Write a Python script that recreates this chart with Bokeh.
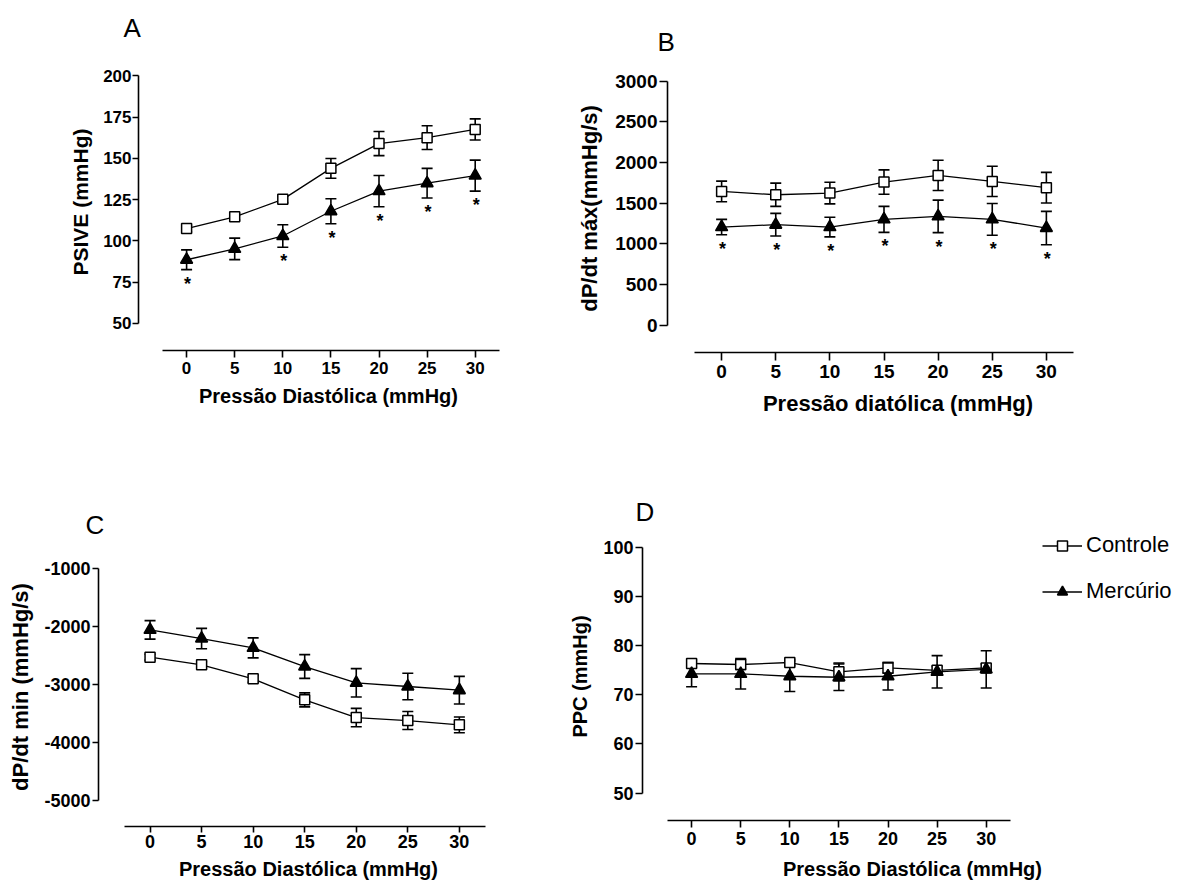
from bokeh.plotting import figure
from bokeh.models import (ColumnDataSource, Whisker, TeeHead, FixedTicker, Range1d,
                          Legend, LegendItem)
from bokeh.layouts import row, column
from bokeh.embed import file_html
from bokeh.resources import INLINE
from bokeh.core.properties import value

FONT = "Liberation Sans"

# ---------------- data ----------------
pressure = [0, 5, 10, 15, 20, 25, 30]
x_ticks = [0, 5, 10, 15, 20, 25, 30]

# A - PSIVE (mmHg)
psive_ctrl = [107.5, 114.6, 125.2, 144.0, 159.0, 162.6, 167.6]
psive_ctrl_err = [2.0, 2.0, 2.0, 6.0, 7.3, 7.2, 6.4]
psive_hg = [88.6, 95.2, 103.0, 118.0, 130.2, 135.0, 139.6]
psive_hg_err = [6.0, 6.5, 6.8, 7.6, 9.5, 9.0, 9.4]
psive_sig = [0, 10, 15, 20, 25, 30]
psive_ticks = [50, 75, 100, 125, 150, 175, 200]
psive_labels = ["50", "75", "100", "125", "150", "175", "200"]

# B - dP/dt max
dpmax_ctrl = [1645, 1604, 1625, 1760, 1842, 1768, 1691]
dpmax_ctrl_err = [127, 143, 133, 150, 186, 186, 188]
dpmax_hg = [1207, 1236, 1207, 1301, 1338, 1301, 1195]
dpmax_hg_err = [94, 139, 121, 160, 200, 195, 205]
dpmax_sig = [0, 5, 10, 15, 20, 25, 30]
dpmax_ticks = [0, 500, 1000, 1500, 2000, 2500, 3000]
dpmax_labels = ["0", "500", "1000", "1500", "2000", "2500", "3000"]

# C - dP/dt min
dpmin_ctrl = [-2532, -2664, -2905, -3267, -3571, -3623, -3697]
dpmin_ctrl_err = [50, 55, 60, 120, 158, 155, 135]
dpmin_hg = [-2062, -2211, -2372, -2693, -2974, -3037, -3100]
dpmin_hg_err = [160, 175, 172, 204, 244, 227, 238]
dpmin_ticks = [-5000, -4000, -3000, -2000, -1000]
dpmin_labels = ["-5000", "-4000", "-3000", "-2000", "-1000"]

# D - PPC (mmHg)
ppc_ctrl = [76.4, 76.2, 76.6, 74.7, 75.5, 75.0, 75.5]
ppc_ctrl_err = [0.8, 1.0, 0.6, 1.8, 1.1, 0.8, 0.8]
ppc_hg = [74.3, 74.3, 73.8, 73.6, 73.8, 74.7, 75.2]
ppc_hg_err = [2.65, 3.1, 3.1, 2.7, 2.8, 3.3, 3.8]
ppc_ticks = [50, 60, 70, 80, 90, 100]
ppc_labels = ["50", "60", "70", "80", "90", "100"]

series_names = ["Controle", "Mercúrio"]
x_title_main = "Pressão Diastólica (mmHg)"
x_title_b = "Pressão diatólica (mmHg)"


def make_fig(letter, width, height, left, right, top, bottom, x_end, y_start, y_end,
             yticks, ylabels, ybounds, ytitle, xtitle, tick_fs, ytitle_fs, xtitle_fs,
             ytick_out, ystd, ytitle_std, xtick_out, xstd, xtitle_std,
             letter_offset, letter_standoff):
    p = figure(width=width, height=height, output_backend="svg", toolbar_location=None,
               x_range=Range1d(-5, x_end), y_range=Range1d(y_start, y_end),
               min_border_left=left, min_border_right=right,
               min_border_top=top, min_border_bottom=bottom)
    p.frame_align = False
    p.outline_line_color = None
    p.grid.visible = False
    p.background_fill_color = "white"
    p.border_fill_color = "white"

    p.title.text = letter
    p.title.align = "left"
    p.title.offset = letter_offset
    p.title.standoff = letter_standoff
    p.title.text_font = FONT
    p.title.text_font_size = "26px"
    p.title.text_font_style = "normal"
    p.title.text_color = "black"

    xa = p.xaxis[0]
    xa.bounds = (-2.5, 32.5)
    xa.ticker = FixedTicker(ticks=x_ticks)
    xa.minor_tick_line_color = None
    xa.major_tick_in = 0
    xa.major_tick_out = xtick_out
    xa.major_label_standoff = xstd
    xa.axis_line_width = 1.6
    xa.major_tick_line_width = 1.6
    xa.axis_line_color = "black"
    xa.major_tick_line_color = "black"
    xa.major_label_text_font = FONT
    xa.major_label_text_font_style = "bold"
    xa.major_label_text_font_size = tick_fs
    xa.major_label_text_color = "black"
    xa.axis_label = xtitle
    xa.axis_label_text_font = FONT
    xa.axis_label_text_font_style = "bold"
    xa.axis_label_text_font_size = xtitle_fs
    xa.axis_label_text_color = "black"
    xa.axis_label_standoff = xtitle_std

    ya = p.yaxis[0]
    ya.bounds = ybounds
    ya.ticker = FixedTicker(ticks=yticks)
    ya.major_label_overrides = {t: l for t, l in zip(yticks, ylabels)}
    ya.minor_tick_line_color = None
    ya.major_tick_in = 0
    ya.major_tick_out = ytick_out
    ya.major_label_standoff = ystd
    ya.axis_line_width = 1.6
    ya.major_tick_line_width = 1.6
    ya.axis_line_color = "black"
    ya.major_tick_line_color = "black"
    ya.major_label_text_font = FONT
    ya.major_label_text_font_style = "bold"
    ya.major_label_text_font_size = tick_fs
    ya.major_label_text_color = "black"
    ya.axis_label = ytitle
    ya.axis_label_text_font = FONT
    ya.axis_label_text_font_style = "bold"
    ya.axis_label_text_font_size = ytitle_fs
    ya.axis_label_text_color = "black"
    ya.axis_label_standoff = ytitle_std
    return p


def add_series(p, ys, errs, marker, fill, size):
    src = ColumnDataSource(dict(x=pressure, y=ys,
                                lo=[y - e for y, e in zip(ys, errs)],
                                hi=[y + e for y, e in zip(ys, errs)]))
    w = Whisker(source=src, base="x", upper="hi", lower="lo", line_color="black",
                line_width=1.6,
                upper_head=TeeHead(size=11, line_width=1.6, line_color="black"),
                lower_head=TeeHead(size=11, line_width=1.6, line_color="black"))
    p.add_layout(w)
    ln = p.line("x", "y", source=src, line_color="black", line_width=1.3)
    sc = p.scatter("x", "y", source=src, marker=marker, size=size, fill_color=fill,
                   line_color="black", line_width=1.5)
    return ln, sc


def add_stars(p, ys, errs, sig, fs):
    xs, yy = [], []
    for xv, y, e in zip(pressure, ys, errs):
        if xv in sig:
            xs.append(xv)
            yy.append(y - e)
    src = ColumnDataSource(dict(x=xs, y=yy))
    p.text("x", "y", source=src, text=value("*"), text_font=value(FONT),
           text_font_style="bold", text_font_size=fs, text_align="center",
           text_baseline="top", x_offset=1, y_offset=4, text_color="black")


# ---------------- panels ----------------
pA = make_fig("A", 548, 448, 138, 30, 50, 98, -5 + 380 / 9.62, 33.6, 213.6,
              psive_ticks, psive_labels, (50, 200), "PSIVE (mmHg)", x_title_main,
              "17px", "21px", "20px", 6, 1, 8, 7, 4, 8, -15, 21)
add_series(pA, psive_ctrl, psive_ctrl_err, "square", "white", 10)
add_series(pA, psive_hg, psive_hg_err, "triangle", "black", 12)
add_stars(pA, psive_hg, psive_hg_err, psive_sig, "18px")

pB = make_fig("B", 634, 448, 119, 54, 64, 96, -5 + 461 / 10.825, -335, 3205,
              dpmax_ticks, dpmax_labels, (0, 3000), "dP/dt máx(mmHg/s)", x_title_b,
              "19px", "22px", "22px", 8, 2, 10, 8, 4, 10, -10, 16)
add_series(pB, dpmax_ctrl, dpmax_ctrl_err, "square", "white", 10)
add_series(pB, dpmax_hg, dpmax_hg_err, "triangle", "black", 12)
add_stars(pB, dpmax_hg, dpmax_hg_err, dpmax_sig, "18px")

pC = make_fig("C", 548, 438, 98, 30, 99, 60, -5 + 420 / 10.31, -5447, -644,
              dpmin_ticks, dpmin_labels, (-5000, -1000), "dP/dt min (mmHg/s)", x_title_main,
              "18px", "22px", "20px", 6, 2, 8, 6, 2, 7, -13, 16)
add_series(pC, dpmin_ctrl, dpmin_ctrl_err, "square", "white", 10)
add_series(pC, dpmin_hg, dpmin_hg_err, "triangle", "black", 12)

pD = make_fig("D", 634, 438, 94, 0, 84, 66, -5 + 540 / 9.82, 44.4, 103.1,
              ppc_ticks, ppc_labels, (50, 100), "PPC (mmHg)", x_title_main,
              "18px", "20px", "20px", 7, 2, 9, 7, 4, 10, -7, 12)
lc, sc_c = add_series(pD, ppc_ctrl, ppc_ctrl_err, "square", "white", 10)
lh, sc_h = add_series(pD, ppc_hg, ppc_hg_err, "triangle", "black", 12)

legend = Legend(items=[LegendItem(label=series_names[0], renderers=[lc, sc_c]),
                       LegendItem(label=series_names[1], renderers=[lh, sc_h])],
                location=(400, 216), orientation="vertical",
                glyph_width=40, glyph_height=25, label_height=25, spacing=20,
                label_standoff=4, padding=0, margin=0,
                label_text_font=FONT, label_text_font_size="22px",
                label_text_color="black", border_line_color=None,
                background_fill_alpha=0)
pD.add_layout(legend)

layout = row(column(pA, pC), column(pB, pD))

with open("out.html", "w") as f:
    f.write(file_html(layout, INLINE))
